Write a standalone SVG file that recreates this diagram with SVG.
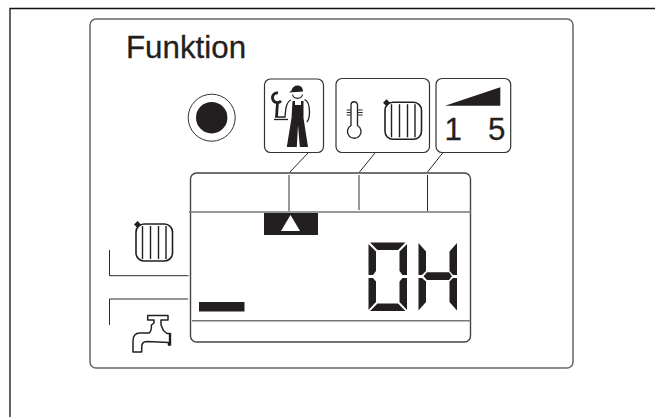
<svg xmlns="http://www.w3.org/2000/svg" width="655" height="417" viewBox="0 0 655 417">
<style>
.l{fill:none;stroke:#2a2a2a;stroke-width:1}
.g{fill:none;stroke:#777;stroke-width:1.5}
.box{fill:#fff;stroke:#333;stroke-width:1.2}
.k{fill:#231f20}
.t{font-family:"Liberation Sans",Arial,sans-serif;fill:#231f20;font-size:31.3px;stroke:#231f20;stroke-width:.3px}
</style>
<defs>
<g id="rad">
<rect x="0" y="0" width="36.5" height="37" rx="8" fill="none" stroke="#231f20" stroke-width="1.6"/>
<path d="M6.500 2V35M14.500 2V35M22.500 2V35M30 2V35" fill="none" stroke="#231f20" stroke-width="1.4"/>
<path d="M1.500 -3L5 .5L1.500 4L-2 .5Z" fill="#231f20"/>
</g>
</defs>
<rect width="655" height="417" fill="#fff"/>
<path id="frame" d="M10 417V8.500H655" fill="none" stroke="#111" stroke-width="1.300"/>
<g id="panel"><rect x="90" y="19" width="483" height="349" rx="6" fill="#fff" stroke="#666" stroke-width="1.500"/>
<text class="t" x="126" y="58">Funktion</text></g>
<g id="connectors">
<path class="l" d="M308 153L290 172M375 153L359.500 172M442.700 153L427.500 172"/>
<path class="l" d="M109.500 250V275.700H188.500M109.500 325V299H188"/>
</g>
<g id="button"><circle cx="211.700" cy="117.700" r="23.500" fill="#fff" stroke="#333" stroke-width="1"/><circle cx="211.700" cy="117.700" r="15.700" class="k"/></g>
<g id="service"><rect class="box" x="264.500" y="79" width="59" height="73.500" rx="6"/>
<path class="k" d="M289 92.500L291.500 90.500C292 87.500 294.500 85.500 297.500 85.500C300.500 85.500 303 87.500 303 91.500Z"/>
<path d="M292.500 94.500C293 97 295 98.300 297.500 98.300C300 98.300 302 97 302.500 94.500" fill="none" stroke="#231f20" stroke-width="1.200"/>
<path class="k" d="M292.500 101H295V105H301V101H303.500V118L308 147H299.800L298 125L296.800 147H286.800L291.500 118Z"/>
<path d="M291 100C286 102 285.500 110 285 117H275M304.500 99.500C308.500 101 309.500 105 309.500 112C309.500 118 308.500 120 307 122" fill="none" stroke="#231f20" stroke-width="1.300"/>
<path d="M278 93A4.800 4.800 0 1 0 281 100.800" fill="none" stroke="#231f20" stroke-width="2.800"/>
<path d="M277.500 102.500L276.500 117" fill="none" stroke="#231f20" stroke-width="2.800"/>
<path d="M274 119.500H288" fill="none" stroke="#231f20" stroke-width="1.300"/></g>
<g id="heating"><rect class="box" x="336" y="78.500" width="93.500" height="74" rx="6"/>
<path d="M351 105A3.200 3.200 0 0 1 357.500 105V125.500A6.800 6.800 0 1 1 351 125.500Z" fill="#fff" stroke="#231f20" stroke-width="1.300"/>
<path class="l" d="M346.700 110H351M346.700 112.500H351M346.700 115H351M357.500 110H362.700M357.500 112.500H362.700M357.500 115H362.700"/>
<use href="#rad" x="385" y="102.300"/></g>
<g id="level"><rect class="box" x="436" y="78.500" width="74.700" height="74" rx="6"/>
<path class="k" d="M445 105.700L500.300 87.300V105.700Z"/>
<text class="t" x="444.500" y="139.500">1</text><text class="t" x="488" y="139.500">5</text></g>
<g id="display"><rect x="190.500" y="173" width="280" height="169" rx="6" fill="#fff" stroke="#444" stroke-width="1.400"/>
<path class="g" d="M189 212H471M192 320.700H470.500"/>
<path class="g" d="M289 175V211M359 175V210"/><path class="l" d="M427.500 175V211"/>
<rect class="k" x="264" y="213" width="54" height="22"/>
<path d="M290.500 215L300 231H281Z" fill="#fff"/>
<rect class="k" x="199" y="302" width="45.500" height="9.500"/>
<path class="k" d="M370 242.500H405.500L398 250H377.500ZM368.500 244L376 251.500V271L373 275H368.500ZM407 244V275H402.500L399.500 271V251.500ZM368.500 278H373L376 281.500V302L368.500 310ZM399.500 281.500L402.500 278H407V310L399.500 302ZM377.500 303.500H398L405.500 311H370Z"/>
<path class="k" d="M418.500 243L426 251.500V271L422 275H418.500ZM457 243V275H453L449.500 271V251.500ZM418.500 278H422L426 281.500V302L418.500 310.500ZM449.500 281.500L453 278H457V310.500L449.500 302ZM423.500 276.300L427 272.300H449L452 276.300L449 280H427Z"/></g>
<g id="radiator"><use href="#rad" x="136" y="224"/></g>
<g id="tap"><path fill="#fff" stroke="#231f20" stroke-width="1.500" stroke-linejoin="round" d="M147.700 315.500H168V320H161V325L163.500 330.500L167 333.500H170V345H168.500V342.500L147 341.500C143 341.500 141.700 344 141.700 347V352H133V341C133 335.500 136 333 140 333H149C151 332 151.500 329 151.500 325L154 323V320H147.700Z"/><path d="M170 333V345.500" stroke="#231f20" stroke-width="2.400"/></g>
</svg>
